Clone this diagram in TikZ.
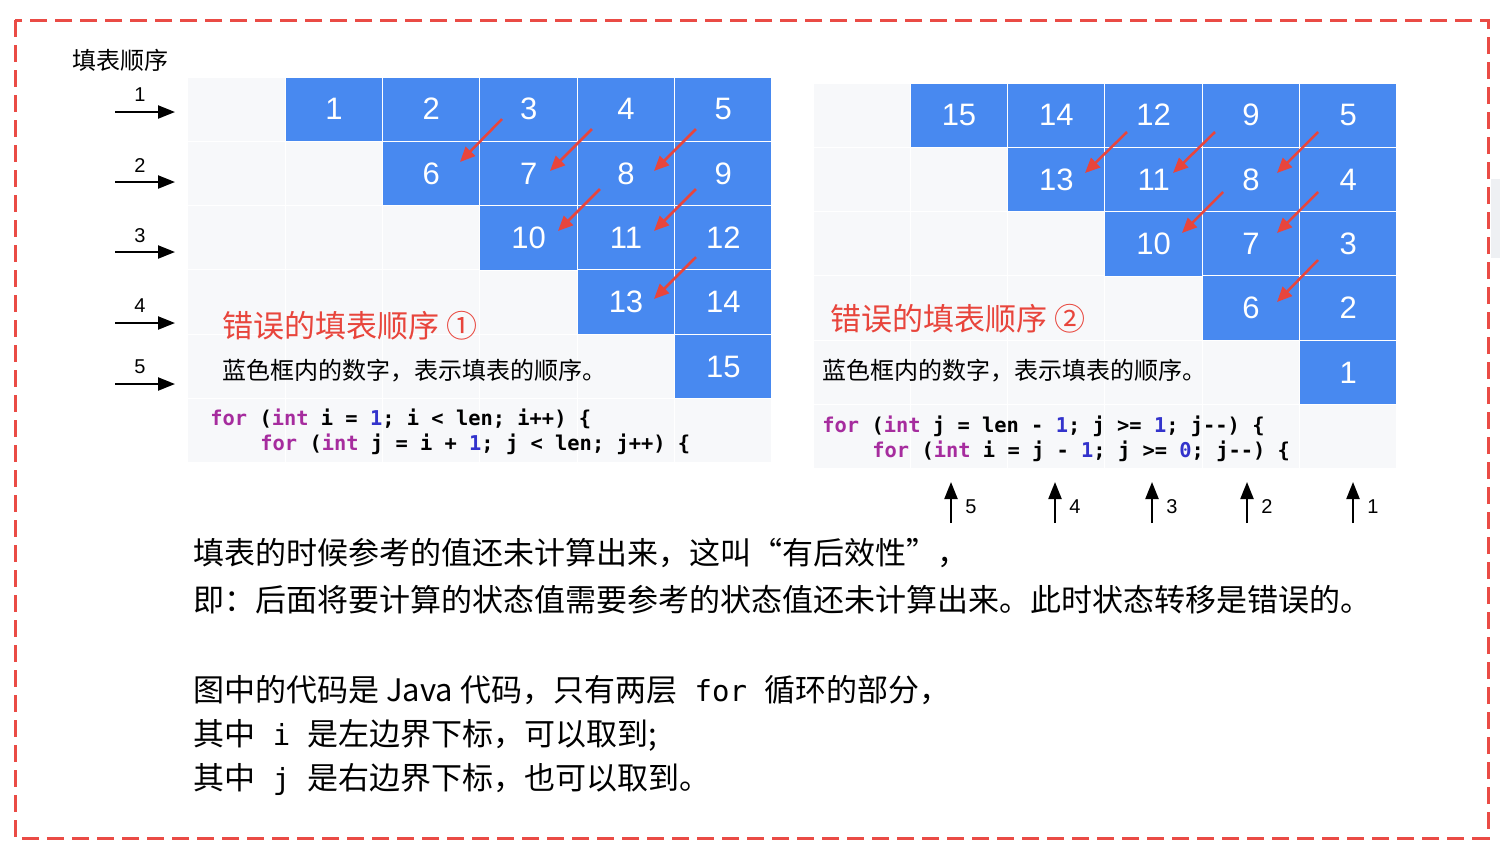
\documentclass[tikz,border=0pt]{standalone}
\usepackage{fontspec}
\setmainfont{Noto Sans CJK SC}
\setmonofont{DejaVu Sans Mono}
\newfontfamily\numfont{Liberation Sans}
\usetikzlibrary{arrows.meta}
\definecolor{cellblue}{HTML}{4889F0}
\definecolor{cellgray}{HTML}{F7F8FA}
\definecolor{errred}{HTML}{E8453C}
\definecolor{borderred}{HTML}{EA4B45}
\definecolor{kwcolor}{HTML}{A62C9E}
\definecolor{numcolor}{HTML}{3333CC}
\definecolor{edgegray}{HTML}{EEF0F3}
\newcommand\kw[1]{\textcolor{kwcolor}{#1}}
\newcommand\nm[1]{\textcolor{numcolor}{#1}}
\newcommand\mono[1]{{\fontsize{14.5pt}{14.5pt}\selectfont\ttfamily#1}}
\tikzset{
  graycell/.style={draw=white, line width=0.5pt, fill=cellgray, minimum width=48.67pt, minimum height=32.17pt, inner sep=0pt},
  bluecell/.style={graycell, fill=cellblue, text=white, font=\fontsize{15.5pt}{15.5pt}\selectfont\numfont},
  redarrow/.style={draw=errred, line width=1.25pt, -{Triangle[length=7.5pt,width=6.5pt]}},
  blackarrow/.style={draw=black, line width=1.1pt, -{Triangle[length=8.5pt,width=6.5pt]}},
  smalllabel/.style={inner sep=0pt, font=\fontsize{10pt}{10pt}\selectfont\numfont},
  codeline/.style={anchor=west, inner sep=0pt, font=\fontsize{10.2pt}{10.2pt}\selectfont\ttfamily\bfseries},
  bodytext/.style={anchor=west, inner sep=0pt, font=\fontsize{15.5pt}{15.5pt}\selectfont},
  heading/.style={anchor=west, inner sep=0pt, text=errred, font=\fontsize{15.5pt}{15.5pt}\selectfont},
  desc/.style={anchor=west, inner sep=0pt, font=\fontsize{12pt}{12pt}\selectfont},
}
\begin{document}
\begin{tikzpicture}[x=0.5pt,y=-0.5pt]
\useasboundingbox (0,0) rectangle (1500,848);
\fill[white] (0,0) rectangle (1500,848);
\fill[edgegray] (1491,179) rectangle (1500,258);
\draw[borderred, line width=1.5pt, dash pattern=on 8.5pt off 4pt] (15,20) rectangle (1488,838);

\node[anchor=west, inner sep=0pt, font=\fontsize{12pt}{12pt}\selectfont] (title) at (72,60) {填表顺序};

% grid backgrounds
\foreach \r in {0,...,5}{
  \foreach \c in {0,...,5}{
    \node[graycell] (Lg-\r-\c) at ({188+97.33*(\c+0.5)},{77+64.33*(\r+0.5)}) {};
    \node[graycell] (Rg-\r-\c) at ({813+97.33*(\c+0.5)},{83+64.33*(\r+0.5)}) {};
  }
}
% left blue cells
\foreach \r/\c/\t in {0/1/1,0/2/2,0/3/3,0/4/4,0/5/5,1/2/6,1/3/7,1/4/8,1/5/9,2/3/10,2/4/11,2/5/12,3/4/13,3/5/14,4/5/15}{
  \node[bluecell] (L-\r-\c) at ({188+97.33*(\c+0.5)},{77+64.33*(\r+0.5)}) {\t};
}
% right blue cells
\foreach \r/\c/\t in {0/1/15,0/2/14,0/3/12,0/4/9,0/5/5,1/2/13,1/3/11,1/4/8,1/5/4,2/3/10,2/4/7,2/5/3,3/4/6,3/5/2,4/5/1}{
  \node[bluecell] (R-\r-\c) at ({813+97.33*(\c+0.5)},{83+64.33*(\r+0.5)}) {\t};
}

% red arrows left
\coordinate (la1s) at (502,119); \coordinate (la1e) at (460,162);
\coordinate (la2s) at (592,129); \coordinate (la2e) at (550,171);
\coordinate (la3s) at (696,129); \coordinate (la3e) at (654,171);
\coordinate (la4s) at (600,189); \coordinate (la4e) at (558,231);
\coordinate (la5s) at (696,189); \coordinate (la5e) at (654,231);
\coordinate (la6s) at (696,257); \coordinate (la6e) at (654,299);
\foreach \i in {1,...,6}{ \draw[redarrow] (la\i s) -- (la\i e); }
% red arrows right
\coordinate (ra1s) at (1127,132); \coordinate (ra1e) at (1085,173);
\coordinate (ra2s) at (1215,132); \coordinate (ra2e) at (1173,173);
\coordinate (ra3s) at (1318,132); \coordinate (ra3e) at (1277,173);
\coordinate (ra4s) at (1223,192); \coordinate (ra4e) at (1182,233);
\coordinate (ra5s) at (1318,192); \coordinate (ra5e) at (1277,233);
\coordinate (ra6s) at (1318,260); \coordinate (ra6e) at (1277,302);
\foreach \i in {1,...,6}{ \draw[redarrow] (ra\i s) -- (ra\i e); }

% row order arrows
\foreach \n/\y/\ly in {1/112/95,2/182/166,3/252/236,4/323/306,5/384/367}{
  \coordinate (rs\n) at (115,\y);
  \coordinate (re\n) at (175,\y);
  \draw[blackarrow] (rs\n) -- (re\n);
  \node[smalllabel] (rl\n) at (140,\ly) {\n};
}
% column order arrows
\foreach \n/\x in {5/951,4/1055,3/1152,2/1247,1/1353}{
  \coordinate (us\n) at (\x,523);
  \coordinate (ue\n) at (\x,482);
  \draw[blackarrow] (us\n) -- (ue\n);
  \node[smalllabel] (ul\n) at (\x+20,507) {\n};
}

% headings and descriptions
\node[heading] (h1) at (222,326) {错误的填表顺序 ①};
\node[desc] (d1) at (222,371) {蓝色框内的数字，表示填表的顺序。};
\node[heading] (h2) at (830,319) {错误的填表顺序 ②};
\node[desc] (d2) at (822,371) {蓝色框内的数字，表示填表的顺序。};

% code
\node[codeline] (lc1) at (210,419) {\kw{for} (\kw{int} i = \nm{1}; i < len; i++) \{};
\node[codeline] (lc2) at (260,444) {\kw{for} (\kw{int} j = i + \nm{1}; j < len; j++) \{};
\node[codeline] (rc1) at (822,426) {\kw{for} (\kw{int} j = len - \nm{1}; j >= \nm{1}; j{-}{-}) \{};
\node[codeline] (rc2) at (872,451) {\kw{for} (\kw{int} i = j - \nm{1}; j >= \nm{0}; j{-}{-}) \{};

% bottom text
\node[bodytext] (t1) at (193,553) {填表的时候参考的值还未计算出来，这叫“有后效性”，};
\node[bodytext] (t2) at (193,600) {即：后面将要计算的状态值需要参考的状态值还未计算出来。此时状态转移是错误的。};
\node[bodytext] (t4) at (193,690) {图中的代码是 Java 代码，只有两层\mono{ for }循环的部分，};
\node[bodytext] (t5) at (193,735) {其中\mono{ i }是左边界下标，可以取到;};
\node[bodytext] (t6) at (193,779) {其中\mono{ j }是右边界下标，也可以取到。};
\end{tikzpicture}
\end{document}
